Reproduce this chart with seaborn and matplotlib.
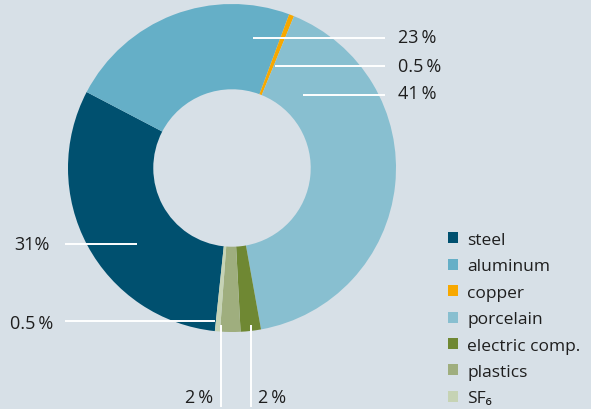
import matplotlib
matplotlib.use("Agg")
import matplotlib.pyplot as plt
import seaborn as sns

# data
materials = ["steel", "aluminum", "copper", "porcelain", "electric comp.", "plastics", "SF\u2086"]
shares = [31, 23, 0.5, 41, 2, 2, 0.5]
share_labels = ["31%", "23\u2009%", "0.5\u2009%", "41\u2009%", "2\u2009%", "2\u2009%", "0.5\u2009%"]
colors = ["#00506f", "#65afc7", "#f7a800", "#88bfd0", "#6f8833", "#9fae7e", "#c6d3b4"]

bg = "#d7e0e7"

sns.set_theme(style="white")
plt.rcParams["font.family"] = ["Open Sans", "DejaVu Sans"]

fig = plt.figure(figsize=(5.91, 4.10), dpi=100, facecolor=bg)
ax = fig.add_axes([0, 0, 1, 1])
ax.set_facecolor(bg)

H = 410
wedges, _ = ax.pie(shares, colors=colors, startangle=264, counterclock=False,
                   center=(232, H - 169), radius=164,
                   wedgeprops=dict(width=164 * 0.52, linewidth=0))
ax.set_xlim(0, 591)
ax.set_ylim(0, H)
ax.set_aspect("equal")
ax.axis("off")

# leader lines (image coords: start, end, label position)
lw = 1.4
fs = 13
lines = {
    1: ((253, 39), (385, 39), (398, 38), "left"),
    2: ((275, 67), (385, 67), (398, 67), "left"),
    3: ((303, 96), (385, 96), (398, 94), "left"),
    0: ((137, 245), (65, 245), (50, 245), "right"),
    6: ((215, 322), (65, 322), (53, 324), "right"),
}
for i, (p0, p1, pt, ha) in lines.items():
    ax.plot([p0[0], p1[0]], [H - p0[1], H - p1[1]], color="white", lw=lw, solid_capstyle="butt")
    ax.text(pt[0], H - pt[1], share_labels[i], ha=ha, va="center", fontsize=fs, color="#1e1e1e")

# vertical leaders for small slices at bottom
for i, x, tx, ha in [(5, 221, 213, "right"), (4, 251, 258, "left")]:
    ax.plot([x, x], [H - 326, H - 408], color="white", lw=lw, solid_capstyle="butt")
    ax.text(tx, H - 398, share_labels[i], ha=ha, va="center", fontsize=fs, color="#1e1e1e")

leg = ax.legend(wedges, materials, loc="upper left", bbox_to_anchor=(441 / 591, 1 - 226 / H),
                frameon=False, fontsize=12.5, handlelength=0.6, handleheight=0.6,
                handletextpad=0.5, labelspacing=0.6, borderaxespad=0)
for t in leg.get_texts():
    t.set_color("#1e1e1e")

fig.savefig("out.png", dpi=100, facecolor=bg)
